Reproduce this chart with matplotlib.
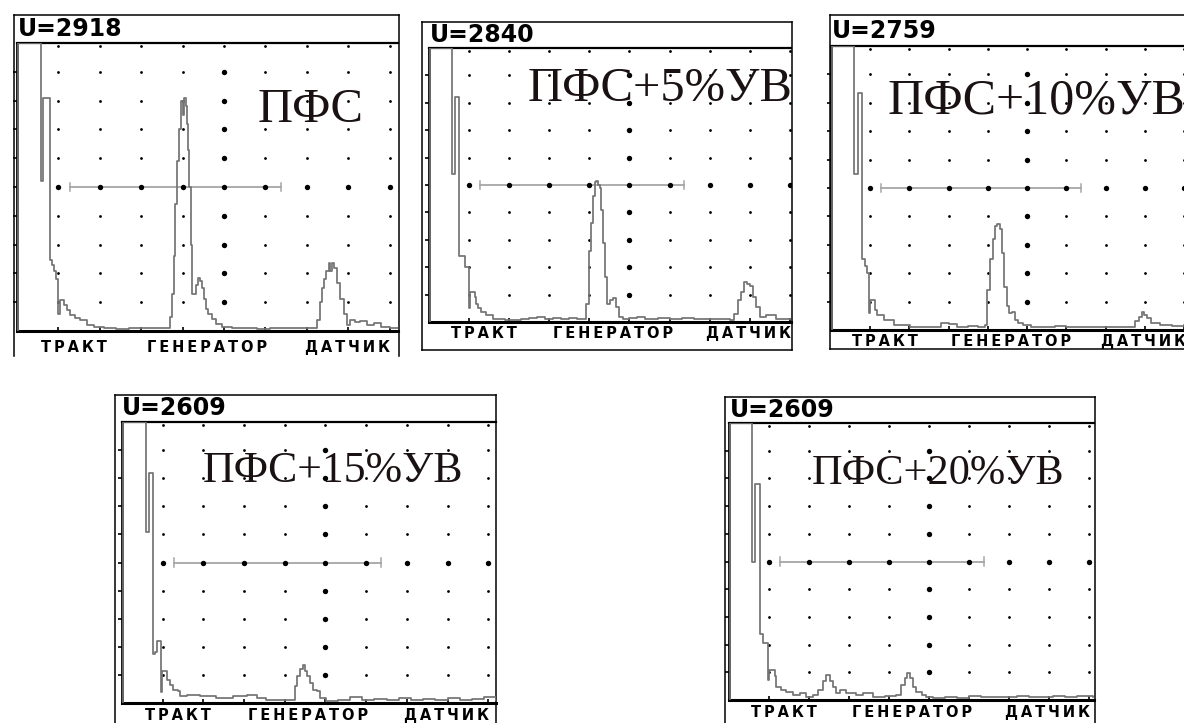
import numpy as np
import matplotlib.pyplot as plt

W, H = 1184, 723

# Readings from the five screens (x, y in screen divisions)
headers = ["U=2918", "U=2840", "U=2759", "U=2609", "U=2609"]
captions = ["ПФС", "ПФС+5%УВ", "ПФС+10%УВ", "ПФС+15%УВ", "ПФС+20%УВ"]
bottom_labels = ["ТРАКТ", "ГЕНЕРАТОР", "ДАТЧИК"]
label_pos = [1.38, 4.58, 7.97]

gate_start, gate_end, gate_level = 1.27, 6.37, 5

pfs = [(0.03, 0), (0.03, 10), (0.58, 10), (0.58, 5.2), (0.63, 5.2), (0.63, 8.1), (0.79, 8.1),
       (0.79, 2.45), (0.84, 2.3), (0.89, 2.1), (0.95, 1.8), (1.00, 1.77), (1.00, 0.6), (1.04, 1.08),
       (1.13, 0.9), (1.20, 0.73), (1.29, 0.55), (1.40, 0.45), (1.53, 0.38), (1.70, 0.21), (1.85, 0.15),
       (2.1, 0.09), (2.4, 0.08), (2.7, 0.1), (3.0, 0.12), (3.3, 0.1), (3.5, 0.12),
       (3.66, 0.1), (3.70, 0.5), (3.74, 1.3), (3.78, 2.6), (3.82, 4.4), (3.86, 5.9), (3.90, 7.0),
       (3.95, 8.0), (3.98, 8.0), (4.01, 7.5), (4.04, 8.1), (4.07, 7.8), (4.10, 7.2), (4.13, 6.3),
       (4.16, 5.0), (4.19, 3.0), (4.22, 1.3), (4.27, 1.3), (4.32, 1.6), (4.37, 1.85), (4.42, 1.75),
       (4.47, 1.5), (4.52, 1.1), (4.57, 0.75), (4.62, 0.6), (4.70, 0.4), (4.80, 0.25), (4.95, 0.15),
       (5.2, 0.1), (5.5, 0.12), (5.8, 0.08), (6.1, 0.1), (6.4, 0.12), (6.7, 0.1), (7.0, 0.1),
       (7.25, 0.38), (7.31, 1.0), (7.36, 1.5), (7.41, 1.8), (7.47, 2.1), (7.53, 2.35), (7.57, 2.1),
       (7.60, 2.35), (7.65, 2.2), (7.73, 1.65), (7.81, 1.1), (7.89, 0.6), (7.97, 0.2), (8.05, 0.38),
       (8.15, 0.32), (8.29, 0.36), (8.45, 0.22), (8.62, 0.27), (8.80, 0.15), (9.0, 0.12), (9.2, 0.1)]

uv5 = [(0.03, 0), (0.03, 10), (0.57, 10), (0.57, 5.4), (0.64, 5.4), (0.64, 8.2), (0.76, 8.2),
       (0.76, 2.4), (0.89, 2.4), (0.89, 2.0), (1.0, 2.0), (1.0, 0.5), (1.03, 1.1), (1.14, 0.9),
       (1.18, 0.67), (1.22, 0.5), (1.30, 0.37), (1.43, 0.25), (1.6, 0.12), (1.9, 0.08), (2.3, 0.1),
       (2.5, 0.15), (2.7, 0.2), (2.9, 0.12), (3.1, 0.15), (3.3, 0.1), (3.5, 0.15), (3.7, 0.12),
       (3.88, 0.12), (3.92, 0.67), (3.99, 2.6), (4.05, 3.6), (4.09, 4.6), (4.13, 5.1), (4.17, 5.15),
       (4.21, 5.0), (4.26, 4.9), (4.30, 4.1), (4.34, 2.9), (4.38, 1.66), (4.44, 0.67), (4.51, 0.8),
       (4.59, 0.86), (4.67, 0.55), (4.75, 0.18), (4.84, 0.12),
       (5.0, 0.15), (5.2, 0.2), (5.4, 0.1), (5.7, 0.15), (6.0, 0.1), (6.3, 0.15), (6.6, 0.1),
       (7.0, 0.1), (7.5, 0.06),
       (7.62, 0.3), (7.71, 0.8), (7.79, 1.1), (7.87, 1.47), (7.93, 1.4), (8.0, 1.3), (8.08, 0.92),
       (8.16, 0.55), (8.25, 0.18), (8.41, 0.25), (8.66, 0.12), (9.05, 0.06)]

uv10 = [(0.03, 0), (0.03, 10), (0.59, 10), (0.59, 5.5), (0.68, 5.5), (0.68, 8.34), (0.79, 8.34),
        (0.79, 2.49), (0.87, 2.25), (0.93, 2.0), (0.98, 2.0), (0.98, 0.6), (1.0, 1.06), (1.09, 1.06),
        (1.13, 0.71), (1.17, 0.53), (1.34, 0.36), (1.6, 0.18), (2.02, 0.12), (2.4, 0.1), (2.8, 0.24),
        (3.0, 0.2), (3.2, 0.12), (3.5, 0.15), (3.75, 0.12),
        (3.93, 0.18), (3.97, 1.4), (4.06, 2.5), (4.13, 3.2), (4.19, 3.67), (4.24, 3.73), (4.30, 3.55),
        (4.35, 2.7), (4.40, 1.5), (4.48, 0.83), (4.55, 0.6), (4.61, 0.65), (4.69, 0.36), (4.78, 0.24),
        (4.90, 0.18),
        (5.1, 0.12), (5.4, 0.1), (5.7, 0.15), (6.0, 0.1), (6.3, 0.12), (6.7, 0.1), (7.0, 0.12), (7.3, 0.1),
        (7.62, 0.12), (7.75, 0.3), (7.84, 0.47), (7.92, 0.65), (7.99, 0.53), (8.06, 0.41), (8.17, 0.24),
        (8.39, 0.18), (8.7, 0.15), (9.0, 0.18)]

uv15 = [(0.03, 0), (0.03, 10), (0.59, 10), (0.59, 6.07), (0.67, 6.07), (0.67, 8.2), (0.75, 8.2),
        (0.75, 1.73), (0.81, 1.8), (0.87, 1.9), (0.87, 2.2), (0.97, 2.2), (0.97, 0.4), (0.99, 1.13),
        (1.1, 0.83), (1.18, 0.65), (1.26, 0.48), (1.38, 0.42), (1.42, 0.24), (1.59, 0.3), (1.91, 0.24),
        (2.32, 0.18), (2.73, 0.24), (3.06, 0.3), (3.31, 0.18), (3.55, 0.12), (3.9, 0.1),
        (4.17, 0.12), (4.25, 0.6), (4.30, 0.95), (4.37, 1.2), (4.44, 1.37), (4.49, 1.13), (4.55, 0.95),
        (4.62, 0.71), (4.70, 0.48), (4.78, 0.42), (4.86, 0.18), (5.02, 0.06),
        (5.3, 0.12), (5.6, 0.2), (5.9, 0.1), (6.2, 0.15), (6.5, 0.12), (6.8, 0.18), (7.1, 0.1),
        (7.4, 0.15), (7.7, 0.12), (8.0, 0.18), (8.3, 0.1), (8.6, 0.15), (8.9, 0.2), (9.2, 0.12)]

uv20 = [(0.03, 0), (0.03, 10), (0.58, 10), (0.58, 4.97), (0.64, 4.97), (0.64, 7.8), (0.77, 7.8),
        (0.77, 2.4), (0.85, 2.4), (0.85, 2.06), (0.98, 2.06), (0.98, 0.73), (1.0, 1.09), (1.06, 1.09),
        (1.14, 0.85), (1.18, 0.48), (1.31, 0.36), (1.43, 0.3), (1.6, 0.18), (1.77, 0.24), (1.93, 0.12),
        (2.1, 0.18), (2.23, 0.36), (2.35, 0.67), (2.43, 0.9), (2.52, 0.67), (2.6, 0.48), (2.68, 0.24),
        (2.77, 0.36), (2.93, 0.24), (3.18, 0.18), (3.35, 0.27), (3.6, 0.12), (3.9, 0.15), (4.18, 0.18),
        (4.27, 0.18), (4.31, 0.55), (4.39, 0.8), (4.45, 0.97), (4.52, 0.8), (4.60, 0.48), (4.68, 0.3),
        (4.81, 0.18), (4.93, 0.12), (5.1, 0.06),
        (5.4, 0.12), (5.7, 0.08), (6.0, 0.15), (6.3, 0.1), (6.6, 0.12), (6.9, 0.1), (7.2, 0.15),
        (7.5, 0.1), (7.8, 0.12), (8.1, 0.15), (8.4, 0.1), (8.7, 0.15), (9.1, 0.12)]

traces = [pfs, uv5, uv10, uv15, uv20]

# screen layout in pixels: outer frame, plot box, visible divisions, caption spot
panels = [
    dict(outer=(14, 15, 399, 356), sides=("top", "left", "right"), plot=(17, 43, 398, 331),
         xmax=9.2, hdr=(18, 29), cap=(5.8, 7.26, 35), lab=15.0),
    dict(outer=(422, 22, 792, 350), sides=("top", "left", "right", "bottom"), plot=(429, 48, 791, 322),
         xmax=9.03, hdr=(430, 35), cap=(2.45, 8.05, 35), lab=11.8),
    dict(outer=(830, 15, 1184, 349), sides=("top", "left", "bottom"), plot=(831, 46, 1184, 330),
         xmax=9.0, hdr=(832, 31), cap=(1.43, 7.62, 36), lab=11.2),
    dict(outer=(115, 395, 496, 723), sides=("top", "left", "right"), plot=(122, 422, 496, 703),
         xmax=9.19, hdr=(122, 408), cap=(1.99, 7.86, 31.5), lab=12.3),
    dict(outer=(725, 397, 1095, 723), sides=("top", "left", "right"), plot=(729, 423, 1094, 700),
         xmax=9.12, hdr=(730, 410), cap=(2.07, 7.79, 30.5), lab=12.3),
]


def box(x0, y0, x1, y1):
    return [x0 / W, 1 - y1 / H, (x1 - x0) / W, (y1 - y0) / H]


fig = plt.figure(figsize=(W / 100, H / 100), dpi=100, facecolor="white")

for p, trace, hdr, cap in zip(panels, traces, headers, captions):
    # outer screen frame
    fa = fig.add_axes(box(*p["outer"]))
    fa.set_xticks([])
    fa.set_yticks([])
    fa.patch.set_alpha(0)
    for s in ["top", "bottom", "left", "right"]:
        fa.spines[s].set_visible(s in p["sides"])
        fa.spines[s].set_linewidth(1.1)

    ax = fig.add_axes(box(*p["plot"]))
    ax.patch.set_alpha(0)
    ax.set_xlim(0, p["xmax"])
    ax.set_ylim(0, 10)
    ax.spines["right"].set_visible(False)
    ax.spines["top"].set_linewidth(1.6)
    ax.spines["bottom"].set_linewidth(2.2)
    ax.spines["left"].set_linewidth(2.0)
    ax.set_xticks(range(1, 10))
    ax.set_yticks(range(1, 10))
    ax.tick_params(axis="x", direction="in", length=3, width=1.2, labelbottom=False)
    ax.tick_params(axis="y", direction="out", length=3, width=1.2, labelleft=False)

    # dotted graticule
    cols = np.arange(1, 10)
    rows = np.arange(1, 10)
    gx, gy = np.meshgrid(cols, rows)
    big = (gx == 5) | (gy == 5)
    ax.scatter(gx[~big], gy[~big], s=4, color="black", zorder=3, linewidths=0)
    ax.scatter(gx[big], gy[big], s=15, color="black", zorder=3, linewidths=0)
    ax.scatter(cols, np.full(9, 9.88), s=4, color="black", zorder=3, linewidths=0)

    # gate
    ax.plot([gate_start, gate_end], [gate_level, gate_level], color="#a6a6a6", lw=1.3, zorder=2)
    for gx_end in (gate_start, gate_end):
        ax.plot([gx_end, gx_end], [gate_level - 0.15, gate_level + 0.15], color="#a6a6a6", lw=1.1, zorder=2)

    tx, ty = np.array(trace).T
    ax.plot(tx, ty, color="#737373", lw=1.25, drawstyle="steps-post", zorder=4)

    cx, cy, cs = p["cap"]
    ax.text(cx, cy, cap, family="Liberation Serif", fontsize=cs, color="#1a1212",
            ha="left", va="baseline", zorder=5, clip_on=True)

    for lab, pos in zip(bottom_labels, label_pos):
        ax.annotate("\u2009".join(lab), xy=(pos, 0), xycoords=("data", "axes fraction"),
                    xytext=(0, -p["lab"]), textcoords="offset points",
                    ha="center", va="baseline", fontsize=10.5, fontweight="bold",
                    family="DejaVu Sans", annotation_clip=False)

    hx, hy = p["hdr"]
    fig.text(hx / W, 1 - hy / H, hdr, fontsize=17, fontweight="bold",
             family="DejaVu Sans", ha="left", va="center")

fig.savefig("out.png", dpi=100, facecolor="white")
